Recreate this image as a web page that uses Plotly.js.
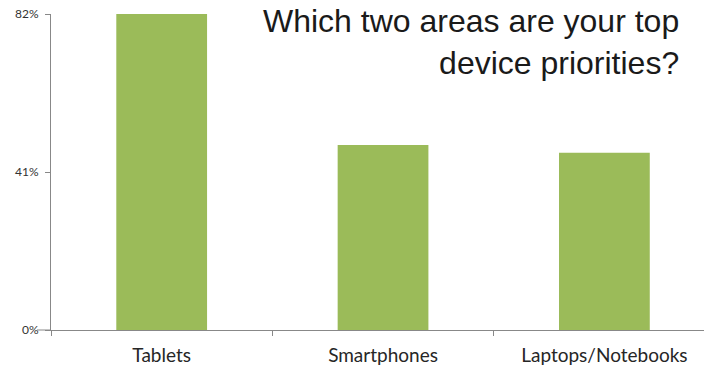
<!DOCTYPE html>
<html>
<head>
<meta charset="utf-8">
<script src="https://cdn.plot.ly/plotly-3.0.1.min.js"></script>
<style>html,body{margin:0;padding:0;background:#fff;}#chart{width:704px;height:369px;}</style>
</head>
<body>
<div id="chart"></div>
<script>
const categories = ["Tablets", "Smartphones", "Laptops/Notebooks"];
const values = [82, 48, 46];
const yTickVals = [0, 41, 82];
const yTickText = ["0%", "41%", "82%"];
const titleText = "Which two areas are your top<br>device priorities?";

const trace = {
  type: "bar",
  x: categories,
  y: values,
  width: 0.41,
  marker: { color: "#9bbb59" },
  hoverinfo: "skip"
};

const layout = {
  width: 704,
  height: 369,
  margin: { l: 51, r: 0, t: 14, b: 39 },
  paper_bgcolor: "#ffffff",
  plot_bgcolor: "#ffffff",
  showlegend: false,
  xaxis: {
    type: "category",
    range: [-0.5, 2.45],
    tickson: "boundaries",
    ticks: "outside",
    ticklen: 5,
    tickcolor: "#888888",
    showline: true,
    linecolor: "#888888",
    linewidth: 1,
    showgrid: false,
    zeroline: false,
    tickfont: { family: "Lato, 'Open Sans', sans-serif", size: 19, color: "#262626" },
    ticklabelstandoff: 8
  },
  yaxis: {
    range: [0, 82],
    tickvals: yTickVals,
    ticktext: yTickText,
    ticks: "outside",
    ticklen: 5,
    tickcolor: "#888888",
    showline: true,
    linecolor: "#888888",
    linewidth: 1,
    showgrid: false,
    zeroline: false,
    tickfont: { family: "Lato, 'Open Sans', sans-serif", size: 12, color: "#333333" },
    ticklabelstandoff: 4
  },
  shapes: [{
    type: "line",
    xref: "paper",
    yref: "paper",
    x0: -14 / 653,
    x1: 0,
    y0: 0,
    y1: 0,
    line: { color: "#888888", width: 1 }
  }],
  annotations: [{
    text: titleText,
    xref: "paper",
    yref: "paper",
    x: (681 - 51) / 653,
    y: 1.04,
    xanchor: "right",
    yanchor: "top",
    align: "right",
    showarrow: false,
    font: { family: "'Liberation Sans', Arial, sans-serif", size: 32, color: "#1a1a1a" }
  }]
};

Plotly.newPlot("chart", [trace], layout, { displayModeBar: false, staticPlot: true });
</script>
</body>
</html>
